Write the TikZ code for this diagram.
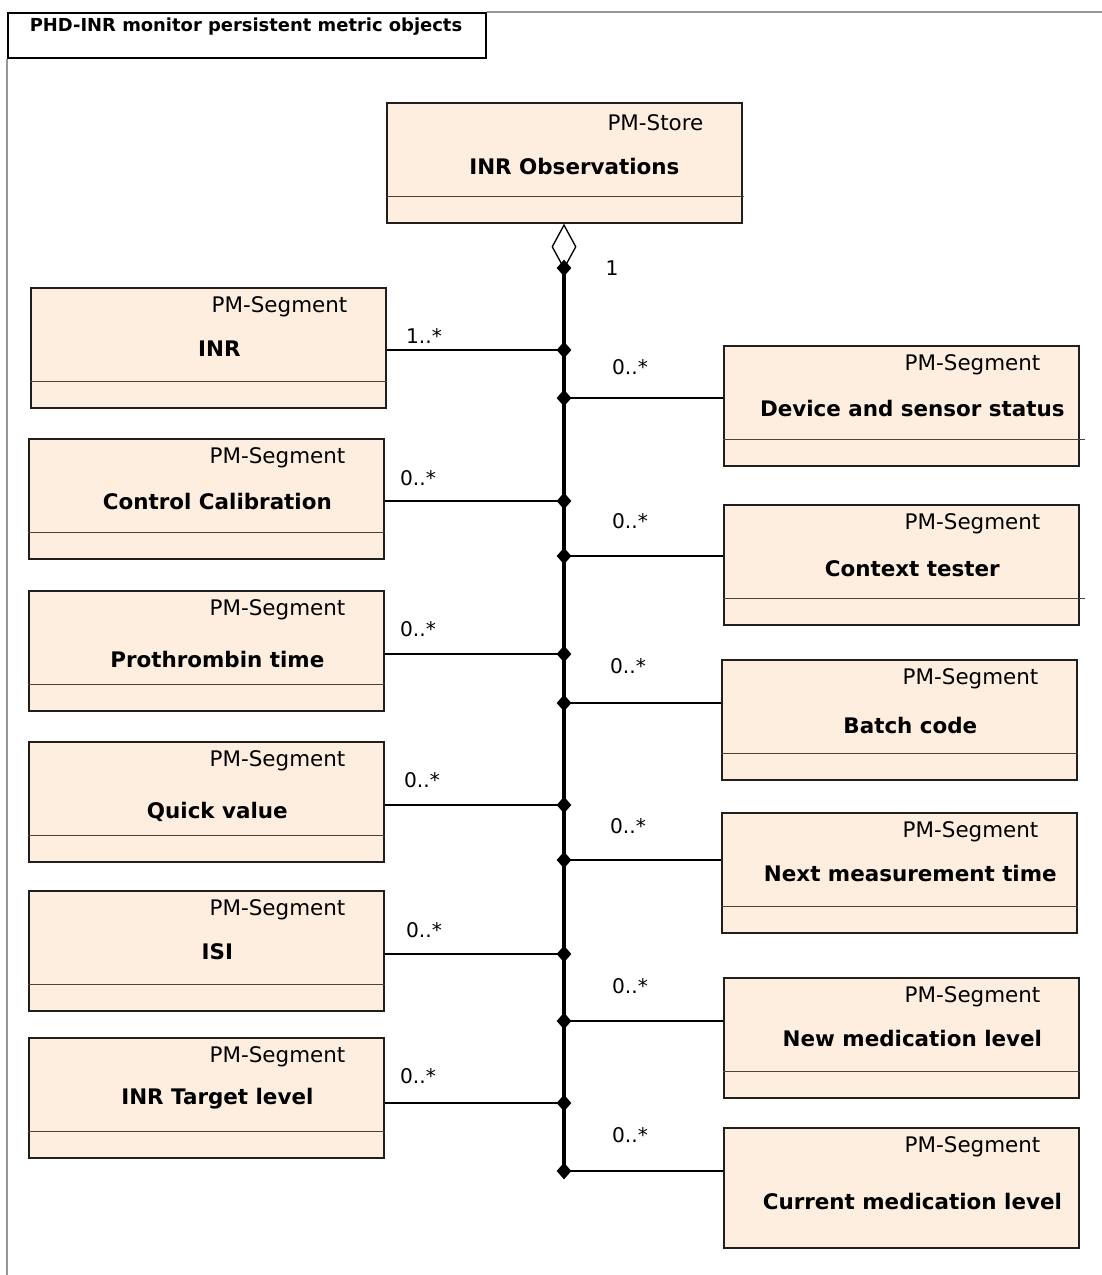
\documentclass[tikz,border=0pt]{standalone}
\usepackage{fontspec}
\setmainfont{DejaVu Sans}
\usepackage{tikz}
\usetikzlibrary{arrows.meta,shapes.geometric}

\definecolor{pmfill}{RGB}{254,238,223}
\definecolor{pmline}{RGB}{34,30,28}
\definecolor{pmdiv}{RGB}{80,64,50}
\definecolor{framegray}{RGB}{150,150,150}

\tikzset{
	pmbox/.style={draw=pmline, line width=1pt, fill=pmfill, anchor=north west,
		minimum width=7.1cm, minimum height=2.4cm, inner sep=0pt},
	stereo/.style={anchor=east, inner sep=0pt, font=\fontsize{12.2}{14}\selectfont},
	cname/.style={inner sep=0pt, font=\fontsize{12.2}{14}\selectfont\bfseries},
	mult/.style={inner sep=0pt, font=\fontsize{11.5}{13}\selectfont},
	assoc/.style={line width=1.5pt},
	bus/.style={line width=2pt},
	junc/.style={diamond, fill=black, inner sep=0pt, minimum width=0.3cm, minimum height=0.34cm},
	divider/.style={draw=pmdiv, line width=0.6pt},
	frame/.style={draw=framegray, line width=0.6pt},
}

\begin{document}
\begin{tikzpicture}[x=0.02cm, y=-0.02cm]
	\useasboundingbox (0,0) rectangle (1102,1275);

	% title tab and frame
	\node[draw=black, line width=1pt, anchor=north west, minimum width=9.56cm,
		minimum height=0.9cm, inner sep=0pt] (title) at (7,12) {};
	\node[inner sep=0pt, font=\fontsize{10.2}{12}\selectfont\bfseries] (title-txt) at (246,27)
		{PHD-INR monitor persistent metric objects};
	\draw[frame] (title.north east) -- (1102,12);
	\draw[frame] (title.south west) -- (7,1275);

	% the store
	\node[pmbox] (store) at (386,102) {};
	\node[stereo] (store-st) at ([shift={(-39,21)}]store.north east) {PM-Store};
	\node[cname] (store-nm) at ([shift={(10,65)}]store.north) {INR Observations};
	\coordinate (aggj) at (564,268);
	\node[mult] (store-m) at (612,268) {1};

	% segments on the left
	\foreach \id/\tx/\ty/\cname/\drop/\cy/\lx/\ly/\mlt in {
		inr/30/287/INR/62/350/424/336/1..*,
		cal/28/438/Control Calibration/64/501/418/478/0..*,
		pt/28/590/Prothrombin time/69/654/418/629/0..*,
		quick/28/741/Quick value/71/805/422/780/0..*,
		isi/28/890/ISI/62/954/424/930/0..*,
		target/28/1037/INR Target level/62/1103/418/1076/0..*}
	{
		\node[pmbox] (\id) at (\tx,\ty) {};
		\node[stereo] (\id-st) at ([shift={(-39,20)}]\id.north east) {PM-Segment};
		\node[cname] (\id-nm) at ([shift={(11,\drop)}]\id.north) {\cname};
		\coordinate (\id-j) at (564,\cy);
		\draw[assoc] (\id.east |- \id-j) -- (\id-j);
		\node[mult] (\id-m) at (\lx,\ly) {\mlt};
	}

	% segments on the right
	\foreach \id/\tx/\ty/\cname/\drop/\cy/\lx/\ly in {
		dev/723/345/Device and sensor status/64/398/630/367,
		ctx/723/504/Context tester/65/556/630/521,
		batch/721/659/Batch code/66/703/628/666,
		next/721/812/Next measurement time/61/860/628/826,
		newmed/723/977/New medication level/61/1021/630/986,
		curmed/723/1127/Current medication level/74/1171/630/1135}
	{
		\node[pmbox] (\id) at (\tx,\ty) {};
		\node[stereo] (\id-st) at ([shift={(-39,20)}]\id.north east) {PM-Segment};
		\node[cname] (\id-nm) at ([shift={(11,\drop)}]\id.north) {\cname};
		\coordinate (\id-j) at (564,\cy);
		\draw[assoc] (\id-j) -- (\id.west |- \id-j);
		\node[mult] (\id-m) at (\lx,\ly) {0..*};
	}

	% attribute compartments
	\foreach \id/\ext in {store/1, inr/0, cal/0, pt/0, quick/0, isi/0, target/0,
		dev/5, ctx/5, batch/0, next/0, newmed/0}
		\draw[divider] ([shift={(0,-27)}]\id.south west) -- ([shift={(\ext,-27)}]\id.south east);

	% aggregation bus
	\draw[bus, {Diamond[open, length=0.92cm, width=0.5cm, line width=0.75pt]}-]
		(store.south -| aggj) -- (curmed-j);
	\foreach \j in {aggj, inr-j, cal-j, pt-j, quick-j, isi-j, target-j,
		dev-j, ctx-j, batch-j, next-j, newmed-j, curmed-j}
		\node[junc] at (\j) {};
\end{tikzpicture}
\end{document}
